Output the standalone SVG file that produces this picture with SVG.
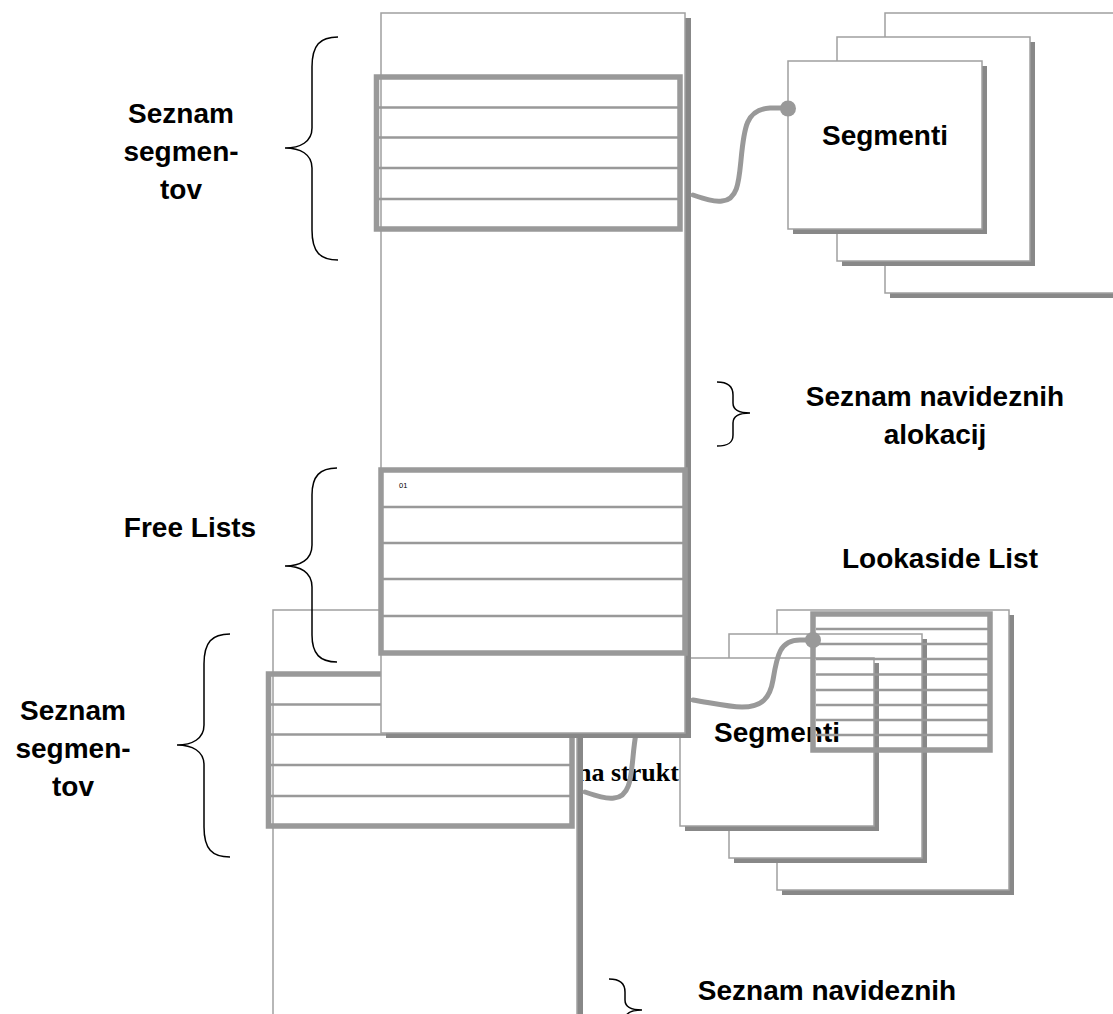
<svg xmlns="http://www.w3.org/2000/svg" width="1113" height="1014" viewBox="0 0 1113 1014">
<style>
.box{fill:#fff;stroke:#a0a0a0;stroke-width:1.5}
.shadow{fill:#888}
.block{fill:none;stroke:#999;stroke-width:5.5}
.row{stroke:#999;stroke-width:2.5}
.link{fill:none;stroke:#999;stroke-width:5;stroke-linecap:round}
.dot{fill:#999}
.brace{fill:none;stroke:#000;stroke-width:1.5}
.lbl{font-family:"Liberation Sans",Arial,sans-serif;font-weight:bold;font-size:28px;fill:#000;text-anchor:middle}
.small{font-family:"Liberation Sans",Arial,sans-serif;font-size:7.5px;fill:#000}
.serif{font-family:"Liberation Serif","Times New Roman",serif;font-weight:bold;font-size:26px;fill:#000}
</style>
<rect width="1113" height="1014" fill="#fff"/>

<!-- lower copy (drawn beneath) -->
<text id="lower-struct-text" class="serif" x="577" y="781">na strukt</text>
<g id="lower-copy" transform="translate(-108,597)">
  <g id="lower-column">
    <rect class="shadow" x="386" y="18" width="305" height="720"/>
    <rect class="box" x="381" y="13" width="304" height="720"/>
  </g>
  <g id="lower-segment-list">
    <line class="row" x1="379" y1="107.5" x2="678" y2="107.5"/>
    <line class="row" x1="379" y1="137.5" x2="678" y2="137.5"/>
    <line class="row" x1="379" y1="168" x2="678" y2="168"/>
    <line class="row" x1="379" y1="199" x2="678" y2="199"/>
    <rect class="block" x="376.5" y="77" width="303.5" height="152"/>
  </g>
  <g id="lower-connectors">
    <path class="link" d="M693,195 C705,199 714,202 722,201 C738,200 739,180 741,160 C744,128 746,109 770,108 L788,108"/>
    <circle class="dot" cx="788" cy="108.5" r="8"/>
  </g>
  <g id="lower-segments">
    <rect class="shadow" x="890" y="18" width="232" height="280"/>
    <rect class="box" x="885" y="13" width="232" height="280"/>
    <rect class="shadow" x="842" y="42" width="193" height="224"/>
    <rect class="box" x="837" y="37" width="193" height="224"/>
    <rect class="shadow" x="793" y="66" width="194" height="168"/>
    <rect class="box" x="788" y="61" width="194" height="168"/>
    <text class="lbl" x="885" y="145">Segmenti</text>
  </g>
  <g id="lower-segment-label">
    <path class="brace" d="M338,37 C320,37 312,45 312,67 L312,128 C312,142 300,148 285,148 C300,148 312,154 312,168 L312,230 C312,252 320,260 338,260"/>
    <text class="lbl" x="181" y="123">Seznam</text>
    <text class="lbl" x="181" y="161">segmen-</text>
    <text class="lbl" x="181" y="199">tov</text>
  </g>
  <g id="lower-virtual-label">
    <path class="brace" d="M717,382 C728,382 733,386 733,395 L733,403 C733,410 740,413 750,413 C740,413 733,416 733,423 L733,435 C733,443 728,446 717,446"/>
    <text class="lbl" x="935" y="403">Seznam navideznih</text>
  </g>
</g>

<!-- upper copy -->
<g id="column">
  <rect class="shadow" x="386" y="18" width="305" height="720"/>
  <rect class="box" x="381" y="13" width="304" height="720"/>
</g>
<g id="segment-list">
  <line class="row" x1="379" y1="107.5" x2="678" y2="107.5"/>
  <line class="row" x1="379" y1="137.5" x2="678" y2="137.5"/>
  <line class="row" x1="379" y1="168" x2="678" y2="168"/>
  <line class="row" x1="379" y1="199" x2="678" y2="199"/>
  <rect class="block" x="376.5" y="77" width="303.5" height="152"/>
</g>
<g id="segments">
  <rect class="shadow" x="890" y="18" width="232" height="280"/>
  <rect class="box" x="885" y="13" width="232" height="280"/>
  <rect class="shadow" x="842" y="42" width="193" height="224"/>
  <rect class="box" x="837" y="37" width="193" height="224"/>
  <rect class="shadow" x="793" y="66" width="194" height="168"/>
  <rect class="box" x="788" y="61" width="194" height="168"/>
  <text class="lbl" x="885" y="145">Segmenti</text>
</g>
<g id="segment-label">
  <path class="brace" d="M338,37 C320,37 312,45 312,67 L312,128 C312,142 300,148 285,148 C300,148 312,154 312,168 L312,230 C312,252 320,260 338,260"/>
  <text class="lbl" x="181" y="123">Seznam</text>
  <text class="lbl" x="181" y="161">segmen-</text>
  <text class="lbl" x="181" y="199">tov</text>
</g>
<g id="virtual-label">
  <path class="brace" d="M717,382 C728,382 733,386 733,395 L733,403 C733,410 740,413 750,413 C740,413 733,416 733,423 L733,435 C733,443 728,446 717,446"/>
  <text class="lbl" x="935" y="406">Seznam navideznih</text>
  <text class="lbl" x="935" y="444">alokacij</text>
</g>
<g id="free-lists">
  <line class="row" x1="383" y1="507" x2="683" y2="507"/>
  <line class="row" x1="383" y1="543" x2="683" y2="543"/>
  <line class="row" x1="383" y1="579" x2="683" y2="579"/>
  <line class="row" x1="383" y1="616" x2="683" y2="616"/>
  <rect class="block" x="381" y="470" width="304" height="183"/>
  <text class="small" x="399" y="488">01</text>
</g>
<g id="free-lists-label">
  <path class="brace" d="M337,468 C320,468 312,476 312,495 L312,545 C312,560 300,566 285,566 C300,566 312,572 312,587 L312,635 C312,654 320,662 337,662"/>
  <text class="lbl" x="190" y="537">Free Lists</text>
</g>
<g id="lookaside-list">
  <line class="row" x1="816" y1="629" x2="988" y2="629"/>
  <line class="row" x1="816" y1="644" x2="988" y2="644"/>
  <line class="row" x1="816" y1="659" x2="988" y2="659"/>
  <line class="row" x1="816" y1="674.5" x2="988" y2="674.5"/>
  <line class="row" x1="816" y1="690" x2="988" y2="690"/>
  <line class="row" x1="816" y1="705" x2="988" y2="705"/>
  <line class="row" x1="816" y1="720" x2="988" y2="720"/>
  <line class="row" x1="816" y1="735" x2="988" y2="735"/>
  <rect class="block" x="813" y="614" width="177" height="136"/>
  <text class="lbl" x="940" y="568">Lookaside List</text>
</g>
<g id="connectors">
  <path class="link" d="M693,195 C705,199 714,202 722,201 C738,200 739,180 741,160 C744,128 746,109 770,108 L788,108"/>
  <circle class="dot" cx="788" cy="108.5" r="8"/>
  <path class="link" d="M693,700 C712,703 728,707 742,707 C762,707 770,698 773,680 C777,655 780,640 800,640 L813,640"/>
  <circle class="dot" cx="813" cy="640" r="8"/>
</g>
</svg>
